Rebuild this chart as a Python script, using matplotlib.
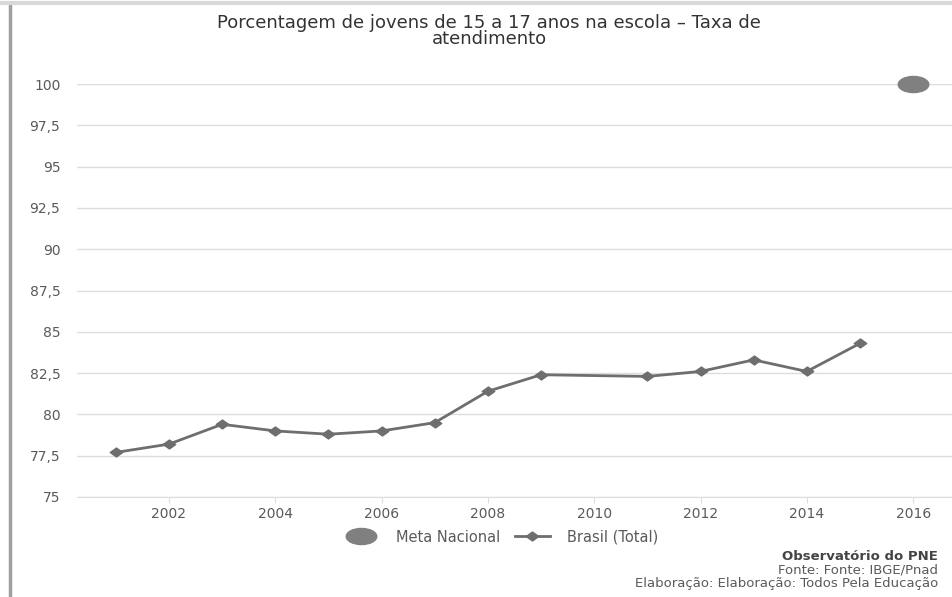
import matplotlib
matplotlib.use('Agg')
import matplotlib.pyplot as plt
from matplotlib.path import Path
from matplotlib.transforms import Affine2D
from matplotlib.lines import Line2D

# dados
anos = [2001, 2002, 2003, 2004, 2005, 2006, 2007, 2008, 2009, 2011, 2012, 2013, 2014, 2015]
taxa = [77.7, 78.2, 79.4, 79.0, 78.8, 79.0, 79.5, 81.4, 82.4, 82.3, 82.6, 83.3, 82.6, 84.3]
meta_ano = [2016]
meta_valor = [100]
yticks = [75, 77.5, 80, 82.5, 85, 87.5, 90, 92.5, 95, 97.5, 100]
ytick_labels = ['75', '77,5', '80', '82,5', '85', '87,5', '90', '92,5', '95', '97,5', '100']
xticks = [2002, 2004, 2006, 2008, 2010, 2012, 2014, 2016]

cinza = '#6e6e6e'
texto = '#5a5a5a'

fig = plt.figure(figsize=(9.53, 5.97), dpi=100)
ax = fig.add_axes([77 / 953, 1 - 497 / 597, 1 - 77 / 953, (497 - 84) / 597])

# marcadores "esticados" como na imagem original
elipse = Path.unit_circle().transformed(Affine2D().scale(1.9, 1.0))
losango = Path([(0, 1), (1.4, 0), (0, -1), (-1.4, 0), (0, 1)],
               [Path.MOVETO, Path.LINETO, Path.LINETO, Path.LINETO, Path.CLOSEPOLY])

ax.plot(meta_ano, meta_valor, linestyle='none', marker=elipse, markersize=22,
        color='#808080', clip_on=False, label='Meta Nacional', zorder=3)
ax.plot(anos, taxa, color=cinza, linewidth=2, marker=losango, markersize=9,
        label='Brasil (Total)', zorder=3)

ax.set_xlim(2000.27, 2016.75)
ax.set_ylim(75, 100)
ax.set_yticks(yticks)
ax.set_yticklabels(ytick_labels)
ax.set_xticks(xticks)
ax.set_xticklabels([str(a) for a in xticks])
ax.grid(axis='y', color='#dddddd', linewidth=1)
ax.set_axisbelow(True)
for s in ['top', 'right', 'left']:
    ax.spines[s].set_visible(False)
ax.spines['bottom'].set_color('#dddddd')
ax.tick_params(axis='y', length=0, pad=12, labelsize=10, labelcolor=texto)
ax.tick_params(axis='x', length=4, color='#dddddd', pad=3, labelsize=10, labelcolor=texto)

fig.text(489 / 953, 1 - 14 / 597, 'Porcentagem de jovens de 15 a 17 anos na escola – Taxa de\natendimento',
         ha='center', va='top', fontsize=13, color='#333333', linespacing=0.85)

ax.legend(loc='center', bbox_to_anchor=(501 / 953, 1 - 537 / 597),
          bbox_transform=fig.transFigure, ncol=2, frameon=False,
          fontsize=10.5, labelcolor=texto, handlelength=2.4, columnspacing=1.0,
          handletextpad=1.2)

fig.text(938 / 953, 1 - 557 / 597, 'Observatório do PNE', ha='right', va='center',
         fontsize=9.5, fontweight='bold', color='#444444')
fig.text(938 / 953, 1 - 570 / 597, 'Fonte: Fonte: IBGE/Pnad', ha='right', va='center',
         fontsize=9.5, color=texto)
fig.text(938 / 953, 1 - 583 / 597, 'Elaboração: Elaboração: Todos Pela Educação', ha='right',
         va='center', fontsize=9.5, color=texto)

# borda da captura
fig.add_artist(Line2D([10 / 953, 10 / 953], [0, 0.99], transform=fig.transFigure,
                      color='#a0a0a0', linewidth=2.5))
fig.add_artist(Line2D([0, 1], [0.995, 0.995], transform=fig.transFigure,
                      color='#d8d8d8', linewidth=3))

fig.savefig('out.png', dpi=100)
